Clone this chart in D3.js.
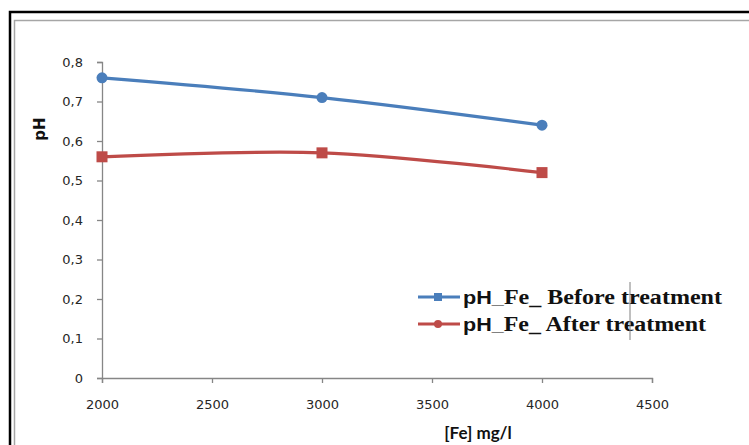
<!DOCTYPE html>
<html><head><meta charset="utf-8">
<script src="https://cdn.jsdelivr.net/npm/d3@7"></script>
<style>html,body{margin:0;padding:0;background:#fff;overflow:hidden}</style>
</head><body>
<svg id="c" width="749" height="445"></svg>
<script>
const xValues = [2000, 3000, 4000];
const beforeValues = [0.76, 0.71, 0.64];
const afterValues = [0.56, 0.57, 0.52];
const xTicks = [2000, 2500, 3000, 3500, 4000, 4500];
const yTicks = [0, 0.1, 0.2, 0.3, 0.4, 0.5, 0.6, 0.7, 0.8];
const seriesNames = ["pH_Fe_ Before treatment", "pH_Fe_ After treatment"];

const svg = d3.select("#c");
// frames
svg.append("rect").attr("x", 10).attr("y", 12).attr("width", 760).attr("height", 460)
  .attr("fill", "none").attr("stroke", "#000").attr("stroke-width", 2.5);
svg.append("rect").attr("x", 14.5).attr("y", 20.5).attr("width", 760).attr("height", 460)
  .attr("fill", "none").attr("stroke", "#a6a6a6").attr("stroke-width", 1.5);

const x = d3.scaleLinear().domain([2000, 4500]).range([102, 652]);
const y = d3.scaleLinear().domain([0, 0.8]).range([378, 62]);

const axisColor = "#868686";
const gx = svg.append("g").attr("transform", "translate(0,378)")
  .call(d3.axisBottom(x).tickValues(xTicks).tickSize(5).tickPadding(17).tickFormat(d3.format("d")));
const gy = svg.append("g").attr("transform", "translate(102,0)")
  .call(d3.axisLeft(y).tickValues(yTicks).tickSize(5).tickPadding(14)
    .tickFormat(d => d === 0 ? "0" : d3.format(".1f")(d).replace(".", ",")));
[gx, gy].forEach(g => {
  g.select(".domain").attr("stroke", axisColor).attr("stroke-width", 1.3);
  g.selectAll(".tick line").attr("stroke", axisColor).attr("stroke-width", 1.3);
  g.selectAll("text").attr("fill", "#262626").attr("font-family", "DejaVu Sans")
    .attr("font-size", 13);
});

// axis titles
svg.append("text").attr("transform", "translate(45,129) rotate(-90)")
  .attr("text-anchor", "middle").attr("font-family", "DejaVu Sans").attr("font-weight", "bold")
  .attr("font-size", 15).attr("fill", "#111").text("pH");
svg.append("text").attr("x", 478).attr("y", 439)
  .attr("text-anchor", "middle").attr("font-family", "Lato").attr("font-weight", "bold")
  .attr("font-size", 17).attr("fill", "#111").text("[Fe] mg/l");

const line = d3.line().x(d => x(d[0])).y(d => y(d[1])).curve(d3.curveCardinal.tension(0));
const blue = "#4a7ebb", red = "#be4b48";
const series = [
  {vals: beforeValues, color: blue, plotMarker: "circle", legMarker: "square"},
  {vals: afterValues, color: red, plotMarker: "square", legMarker: "circle"}
];
function marker(g, type, cx, cy, color) {
  if (type === "circle") g.append("circle").attr("cx", cx).attr("cy", cy).attr("r", 5.5).attr("fill", color);
  else g.append("rect").attr("x", cx - 5.5).attr("y", cy - 5.5).attr("width", 11).attr("height", 11).attr("fill", color);
}
series.forEach(s => {
  const pts = xValues.map((xv, i) => [xv, s.vals[i]]);
  svg.append("path").attr("d", line(pts)).attr("fill", "none").attr("stroke", s.color).attr("stroke-width", 3.2);
  pts.forEach(p => marker(svg, s.plotMarker, x(p[0]), y(p[1]), s.color));
});

// legend
const legY = [297, 324];
const legW = [259, 243];
series.forEach((s, i) => {
  svg.append("line").attr("x1", 418).attr("x2", 460).attr("y1", legY[i]).attr("y2", legY[i])
    .attr("stroke", s.color).attr("stroke-width", 3.2);
  const g = svg.append("g");
  if (s.legMarker === "square") g.append("rect").attr("x", 434).attr("y", legY[i] - 4).attr("width", 8).attr("height", 8).attr("fill", s.color);
  else g.append("circle").attr("cx", 438).attr("cy", legY[i]).attr("r", 4).attr("fill", s.color);
  const parts = seriesNames[i].split("_");
  const t = svg.append("text").attr("x", 463).attr("y", legY[i] + 7).attr("font-weight", "bold").attr("fill", "#111")
    .attr("textLength", legW[i]).attr("lengthAdjust", "spacingAndGlyphs");
  t.append("tspan").attr("font-family", "Liberation Sans").attr("font-size", 18).text(parts[0] + "_");
  t.append("tspan").attr("font-family", "Liberation Serif").attr("font-size", 20).text(parts[1] + "_" + parts[2]);
});
svg.append("line").attr("x1", 630).attr("x2", 630).attr("y1", 282).attr("y2", 340)
  .attr("stroke", "#808080").attr("stroke-width", 1);
</script>
</body></html>
